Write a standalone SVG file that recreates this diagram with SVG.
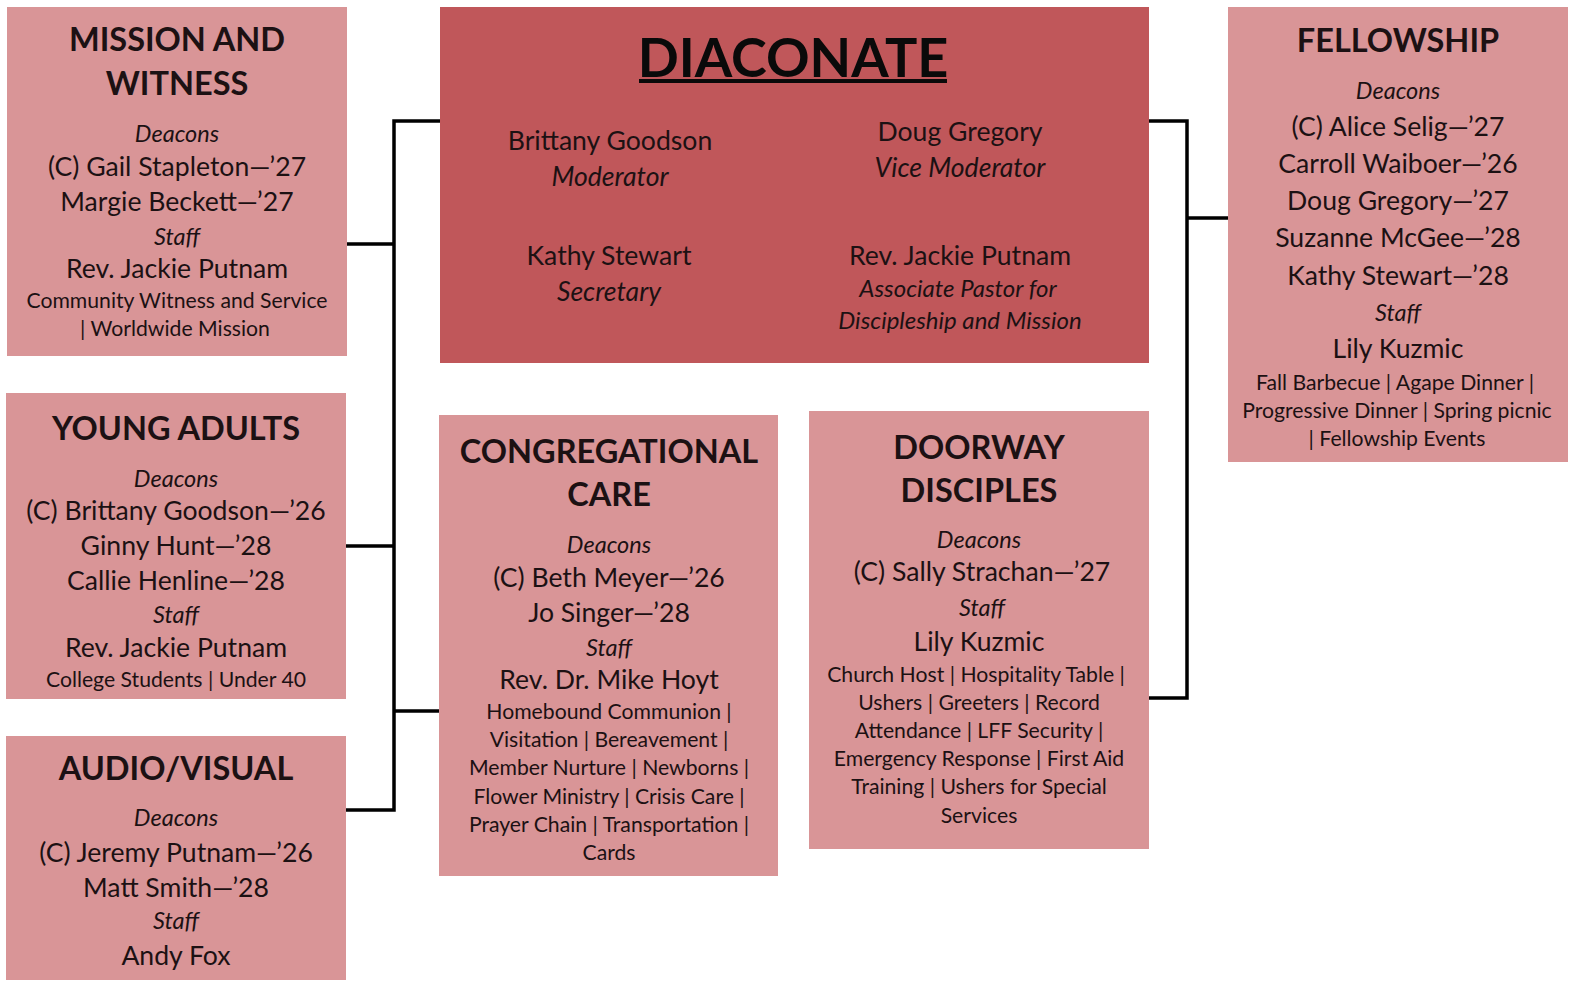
<svg xmlns="http://www.w3.org/2000/svg" width="1583" height="990" viewBox="0 0 1583 990">
<style>
text{font-family:Lato,"Open Sans","Liberation Sans",sans-serif;fill:#1c1113;text-anchor:middle}
.box{fill:#d99597}
.main{fill:#c0575a}
.t{font-size:32.5px;font-weight:bold}
.n{font-size:26.6px}
.i{font-size:23.5px;font-style:italic}
.s{font-size:21.2px}
.big{font-size:54px;font-weight:bold;fill:#0a0a0a}
.dn{font-size:26.6px}
.di{font-size:26.6px;font-style:italic}
.ds{font-size:24px;font-style:italic}
.c{fill:none;stroke:#000;stroke-width:3.5}
</style>
<rect width="1583" height="990" fill="#fff"/>
<g id="connectors">
<path class="c" d="M440 121H394V810H346M347 244H394M346 546H394M394 711H440"/>
<path class="c" d="M1149 121H1187V698H1149M1187 218H1228"/>
</g>
<g id="diaconate">
<rect class="main" x="440" y="7" width="709" height="356"/>
<text class="big" x="793" y="77">DIACONATE</text>
<rect x="639" y="79" width="308" height="4" fill="#0a0a0a"/>
<text class="dn" x="610" y="150">Brittany Goodson</text>
<text class="di" x="610" y="186">Moderator</text>
<text class="dn" x="960" y="141">Doug Gregory</text>
<text class="di" x="960" y="177">Vice Moderator</text>
<text class="dn" x="609" y="265">Kathy Stewart</text>
<text class="di" x="609" y="301">Secretary</text>
<text class="dn" x="960" y="265">Rev. Jackie Putnam</text>
<text class="ds" x="958" y="297">Associate Pastor for</text>
<text class="ds" x="960" y="329">Discipleship and Mission</text>
</g>
<g id="mission">
<rect class="box" x="7" y="7" width="340" height="349"/>
<text class="t" x="177" y="51">MISSION AND</text>
<text class="t" x="177" y="95">WITNESS</text>
<text class="i" x="177" y="142">Deacons</text>
<text class="n" x="177" y="176">(C) Gail Stapleton—’27</text>
<text class="n" x="177" y="211">Margie Beckett—’27</text>
<text class="i" x="177" y="245">Staff</text>
<text class="n" x="177" y="278">Rev. Jackie Putnam</text>
<text class="s" x="177" y="308">Community Witness and Service</text>
<text class="s" x="175" y="336">| Worldwide Mission</text>
</g>
<g id="young-adults">
<rect class="box" x="6" y="393" width="340" height="306"/>
<text class="t" x="176" y="440">YOUNG ADULTS</text>
<text class="i" x="176" y="487">Deacons</text>
<text class="n" x="176" y="520">(C) Brittany Goodson—’26</text>
<text class="n" x="176" y="555">Ginny Hunt—’28</text>
<text class="n" x="176" y="590">Callie Henline—’28</text>
<text class="i" x="176" y="623">Staff</text>
<text class="n" x="176" y="657">Rev. Jackie Putnam</text>
<text class="s" x="176" y="687">College Students | Under 40</text>
</g>
<g id="audio-visual">
<rect class="box" x="6" y="736" width="340" height="244"/>
<text class="t" x="176" y="780">AUDIO/VISUAL</text>
<text class="i" x="176" y="826">Deacons</text>
<text class="n" x="176" y="862">(C) Jeremy Putnam—’26</text>
<text class="n" x="176" y="897">Matt Smith—’28</text>
<text class="i" x="176" y="929">Staff</text>
<text class="n" x="176" y="965">Andy Fox</text>
</g>
<g id="congregational-care">
<rect class="box" x="439" y="415" width="339" height="461"/>
<text class="t" x="609" y="463">CONGREGATIONAL</text>
<text class="t" x="609" y="506">CARE</text>
<text class="i" x="609" y="553">Deacons</text>
<text class="n" x="609" y="587">(C) Beth Meyer—’26</text>
<text class="n" x="609" y="622">Jo Singer—’28</text>
<text class="i" x="609" y="656">Staff</text>
<text class="n" x="609" y="689">Rev. Dr. Mike Hoyt</text>
<text class="s" x="609" y="719">Homebound Communion |</text>
<text class="s" x="609" y="747">Visitation | Bereavement |</text>
<text class="s" x="609" y="775">Member Nurture | Newborns |</text>
<text class="s" x="609" y="804">Flower Ministry | Crisis Care |</text>
<text class="s" x="609" y="832">Prayer Chain | Transportation |</text>
<text class="s" x="609" y="860">Cards</text>
</g>
<g id="doorway-disciples">
<rect class="box" x="809" y="411" width="340" height="438"/>
<text class="t" x="979" y="459">DOORWAY</text>
<text class="t" x="979" y="502">DISCIPLES</text>
<text class="i" x="979" y="548">Deacons</text>
<text class="n" x="982" y="581">(C) Sally Strachan—’27</text>
<text class="i" x="982" y="616">Staff</text>
<text class="n" x="979" y="651">Lily Kuzmic</text>
<text class="s" x="976" y="682">Church Host | Hospitality Table |</text>
<text class="s" x="979" y="710">Ushers | Greeters | Record</text>
<text class="s" x="979" y="738">Attendance | LFF Security |</text>
<text class="s" x="979" y="766">Emergency Response | First Aid</text>
<text class="s" x="979" y="794">Training | Ushers for Special</text>
<text class="s" x="979" y="823">Services</text>
</g>
<g id="fellowship">
<rect class="box" x="1228" y="7" width="340" height="455"/>
<text class="t" x="1398" y="52">FELLOWSHIP</text>
<text class="i" x="1398" y="99">Deacons</text>
<text class="n" x="1398" y="136">(C) Alice Selig—’27</text>
<text class="n" x="1398" y="173">Carroll Waiboer—’26</text>
<text class="n" x="1398" y="210">Doug Gregory—’27</text>
<text class="n" x="1398" y="247">Suzanne McGee—’28</text>
<text class="n" x="1398" y="285">Kathy Stewart—’28</text>
<text class="i" x="1398" y="321">Staff</text>
<text class="n" x="1398" y="358">Lily Kuzmic</text>
<text class="s" x="1395" y="390">Fall Barbecue | Agape Dinner |</text>
<text class="s" x="1397" y="418">Progressive Dinner | Spring picnic</text>
<text class="s" x="1397" y="446">| Fellowship Events</text>
</g>
</svg>
